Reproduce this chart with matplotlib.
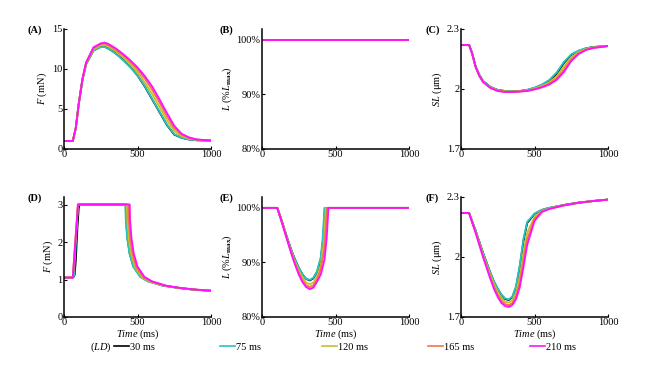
import matplotlib as mpl
import matplotlib.pyplot as plt
from matplotlib.lines import Line2D

mpl.rcParams['font.family'] = ['Liberation Serif', 'DejaVu Serif']
mpl.rcParams['mathtext.fontset'] = 'custom'
mpl.rcParams['mathtext.rm'] = 'Liberation Serif'
mpl.rcParams['mathtext.it'] = 'Liberation Serif:italic'
mpl.rcParams['mathtext.bf'] = 'Liberation Serif:bold'
mpl.rcParams['font.size'] = 7.5

# legend labels and colours
durations = ['30 ms', '75 ms', '120 ms', '165 ms', '210 ms']
colors = ['#000000', '#22c4c4', '#c8c024', '#ef7646', '#ff10ff']

# (A) isometric force
a_time = [0, 60, 80, 100, 125, 150, 200, 250, 275, 300, 350, 400, 450, 500, 550, 600, 650, 700, 750, 800, 850, 900, 1000]
a_30 = [1.0, 1.0, 2.6, 5.6, 8.6, 10.6, 12.3, 12.8, 12.8, 12.6, 12.0, 11.2, 10.3, 9.2, 7.8, 6.2, 4.6, 3.0, 1.8, 1.4, 1.2, 1.1, 1.05]
a_75 = [1.0, 1.0, 2.6, 5.6, 8.6, 10.6, 12.3, 12.75, 12.75, 12.55, 11.95, 11.15, 10.25, 9.2, 7.85, 6.25, 4.65, 3.05, 1.85, 1.4, 1.2, 1.1, 1.05]
a_120 = [1.0, 1.0, 2.6, 5.6, 8.65, 10.7, 12.45, 12.95, 13.0, 12.8, 12.25, 11.5, 10.6, 9.6, 8.3, 6.85, 5.25, 3.6, 2.25, 1.6, 1.3, 1.15, 1.05]
a_165 = [1.0, 1.0, 2.6, 5.6, 8.7, 10.75, 12.6, 13.1, 13.2, 13.0, 12.45, 11.75, 10.9, 9.95, 8.8, 7.4, 5.8, 4.1, 2.6, 1.8, 1.4, 1.18, 1.05]
a_210 = [1.0, 1.0, 2.6, 5.6, 8.7, 10.8, 12.7, 13.2, 13.3, 13.15, 12.6, 11.9, 11.1, 10.2, 9.1, 7.8, 6.2, 4.5, 2.9, 1.9, 1.45, 1.2, 1.05]

# (B) muscle length, constant
b_time = [0, 1000]
b_len = [100, 100]

# (C) sarcomere length, isometric
c_time = [0, 55, 75, 100, 125, 150, 200, 250, 300, 350, 400, 450, 500, 550, 600, 650, 700, 750, 800, 850, 900, 1000]
c_30 = [2.22, 2.22, 2.18, 2.11, 2.07, 2.04, 2.01, 1.995, 1.99, 1.988, 1.99, 1.995, 2.005, 2.02, 2.04, 2.075, 2.13, 2.17, 2.19, 2.203, 2.21, 2.215]
c_75 = [2.22, 2.22, 2.18, 2.11, 2.07, 2.04, 2.01, 1.995, 1.99, 1.988, 1.99, 1.996, 2.007, 2.022, 2.045, 2.082, 2.135, 2.173, 2.192, 2.204, 2.21, 2.215]
c_120 = [2.22, 2.22, 2.18, 2.11, 2.068, 2.038, 2.008, 1.993, 1.988, 1.987, 1.989, 1.993, 2.002, 2.015, 2.033, 2.063, 2.11, 2.158, 2.185, 2.2, 2.208, 2.215]
c_165 = [2.22, 2.22, 2.18, 2.11, 2.066, 2.036, 2.006, 1.991, 1.986, 1.986, 1.988, 1.991, 1.999, 2.011, 2.026, 2.052, 2.095, 2.147, 2.179, 2.197, 2.206, 2.215]
c_210 = [2.22, 2.22, 2.18, 2.11, 2.065, 2.035, 2.005, 1.99, 1.985, 1.985, 1.987, 1.99, 1.998, 2.008, 2.022, 2.045, 2.085, 2.14, 2.175, 2.195, 2.205, 2.215]

# (D) force with afterload
d_time_30 = [0, 60, 65, 72, 80, 90, 100, 105, 420, 422, 432, 447, 472, 520, 570, 670, 770, 880, 1000]
d_30 = [1.05, 1.05, 1.07, 1.12, 1.5, 2.3, 2.9, 3.0, 3.0, 2.6, 2.1, 1.7, 1.35, 1.08, 0.96, 0.84, 0.78, 0.73, 0.70]
d_time_75 = [0, 60, 68, 95, 418, 420, 430, 445, 470, 518, 570, 670, 770, 880, 1000]
d_75 = [1.05, 1.05, 1.1, 3.0, 3.0, 2.6, 2.1, 1.7, 1.35, 1.07, 0.95, 0.84, 0.78, 0.73, 0.70]
d_time_120 = [0, 60, 95, 428, 430, 440, 455, 480, 528, 580, 680, 780, 890, 1000]
d_120 = [1.05, 1.05, 3.0, 3.0, 2.6, 2.1, 1.7, 1.35, 1.07, 0.95, 0.835, 0.775, 0.73, 0.70]
d_time_165 = [0, 60, 95, 438, 440, 450, 465, 490, 538, 590, 690, 790, 895, 1000]
d_165 = [1.05, 1.05, 3.0, 3.0, 2.6, 2.1, 1.7, 1.35, 1.07, 0.95, 0.832, 0.772, 0.73, 0.70]
d_time_210 = [0, 60, 95, 447, 449, 459, 474, 499, 547, 600, 700, 800, 900, 1000]
d_210 = [1.05, 1.05, 3.0, 3.0, 2.6, 2.1, 1.7, 1.35, 1.07, 0.95, 0.83, 0.77, 0.73, 0.70]

# (E) muscle length with afterload
e_time_30 = [0, 104, 125, 150, 175, 200, 225, 250, 275, 300, 325, 350, 375, 400, 415, 428, 1000]
e_30 = [100, 100, 98.4, 96.3, 94.2, 92.2, 90.5, 89.0, 87.8, 87.0, 86.7, 87.1, 88.3, 90.6, 94.0, 100, 100]
e_time_75 = [0, 104, 125, 150, 175, 200, 225, 250, 275, 300, 325, 350, 375, 400, 413, 425, 1000]
e_75 = [100, 100, 98.4, 96.3, 94.2, 92.2, 90.5, 89.0, 87.8, 87.0, 86.8, 87.2, 88.4, 91.0, 94.5, 100, 100]
e_time_120 = [0, 104, 125, 150, 175, 200, 225, 250, 275, 300, 325, 350, 375, 400, 420, 435, 1000]
e_120 = [100, 100, 98.3, 96.2, 94.0, 91.9, 90.1, 88.5, 87.2, 86.3, 86.0, 86.3, 87.4, 89.5, 93.5, 100, 100]
e_time_165 = [0, 104, 125, 150, 175, 200, 225, 250, 275, 300, 325, 350, 375, 400, 425, 443, 1000]
e_165 = [100, 100, 98.25, 96.1, 93.9, 91.7, 89.8, 88.1, 86.7, 85.8, 85.5, 85.8, 86.9, 88.8, 92.5, 100, 100]
e_time_210 = [0, 104, 125, 150, 175, 200, 225, 250, 275, 300, 325, 350, 375, 400, 425, 440, 452, 1000]
e_210 = [100, 100, 98.2, 96.0, 93.8, 91.6, 89.6, 87.8, 86.4, 85.5, 85.1, 85.4, 86.5, 87.8, 90.5, 94.5, 100, 100]

# (F) sarcomere length with afterload
f_time = [0, 55, 75, 100, 125, 150, 175, 200, 225, 250, 275, 300, 325, 350, 375, 400, 425, 450, 500, 550, 600, 700, 800, 900, 1000]
f_30 = [2.22, 2.22, 2.18, 2.13, 2.075, 2.02, 1.97, 1.92, 1.875, 1.84, 1.81, 1.79, 1.785, 1.80, 1.85, 1.95, 2.08, 2.17, 2.215, 2.235, 2.245, 2.26, 2.272, 2.28, 2.287]
f_75 = [2.22, 2.22, 2.18, 2.13, 2.075, 2.02, 1.97, 1.92, 1.876, 1.841, 1.812, 1.793, 1.788, 1.803, 1.855, 1.96, 2.09, 2.175, 2.217, 2.236, 2.246, 2.26, 2.272, 2.28, 2.287]
f_120 = [2.22, 2.22, 2.178, 2.126, 2.068, 2.011, 1.96, 1.908, 1.862, 1.825, 1.794, 1.776, 1.772, 1.784, 1.823, 1.902, 2.02, 2.12, 2.2, 2.23, 2.243, 2.259, 2.271, 2.28, 2.287]
f_165 = [2.22, 2.22, 2.176, 2.122, 2.063, 2.005, 1.952, 1.898, 1.85, 1.811, 1.781, 1.764, 1.759, 1.77, 1.805, 1.873, 1.982, 2.088, 2.19, 2.228, 2.241, 2.258, 2.271, 2.28, 2.287]
f_210 = [2.22, 2.22, 2.175, 2.12, 2.06, 2.0, 1.945, 1.89, 1.84, 1.80, 1.77, 1.755, 1.75, 1.76, 1.79, 1.85, 1.95, 2.06, 2.18, 2.225, 2.24, 2.258, 2.271, 2.28, 2.287]

W, H = 671, 379
fig = plt.figure(figsize=(W / 100, H / 100), dpi=100)

lefts = [64, 262, 461]
tops = [29, 197]
aw, ah = 147, 120
axes = []
for r in range(2):
    for c in range(3):
        ax = fig.add_axes([lefts[c] / W, 1 - (tops[r] + ah) / H, aw / W, ah / H])
        axes.append(ax)

panels = [
    [(a_time, a_30), (a_time, a_75), (a_time, a_120), (a_time, a_165), (a_time, a_210)],
    [(b_time, b_len)] * 5,
    [(c_time, c_30), (c_time, c_75), (c_time, c_120), (c_time, c_165), (c_time, c_210)],
    [(d_time_30, d_30), (d_time_75, d_75), (d_time_120, d_120), (d_time_165, d_165), (d_time_210, d_210)],
    [(e_time_30, e_30), (e_time_75, e_75), (e_time_120, e_120), (e_time_165, e_165), (e_time_210, e_210)],
    [(f_time, f_30), (f_time, f_75), (f_time, f_120), (f_time, f_165), (f_time, f_210)],
]

ylims = [(0, 15), (80, 102), (1.7, 2.3), (0, 3.2), (80, 102), (1.7, 2.3)]
yticks = [[0, 5, 10, 15], [80, 90, 100], [1.7, 2.0, 2.3],
          [0, 1, 2, 3], [80, 90, 100], [1.7, 2.0, 2.3]]
yticklabels = [['0', '5', '10', '15'], ['80%', '90%', '100%'], ['1.7', '2', '2.3'],
               ['0', '1', '2', '3'], ['80%', '90%', '100%'], ['1.7', '2', '2.3']]
ylabels = [r'$F$ (mN)', r'$L$ (%$L_{\mathbf{max}}$)', r'$SL$ ($\mathrm{\mu}$m)',
           r'$F$ (mN)', r'$L$ (%$L_{\mathbf{max}}$)', r'$SL$ ($\mathrm{\mu}$m)']
letters = ['(A)', '(B)', '(C)', '(D)', '(E)', '(F)']

for i, ax in enumerate(axes):
    for (t, v), col in zip(panels[i], colors):
        ax.plot(t, v, color=col, lw=1.35, solid_joinstyle='round')
    ax.set_xlim(0, 1000)
    ax.set_ylim(*ylims[i])
    ax.set_xticks([0, 500, 1000])
    ax.set_yticks(yticks[i])
    ax.set_yticklabels(yticklabels[i])
    for s in ['top', 'right']:
        ax.spines[s].set_visible(False)
    for s in ['left', 'bottom']:
        ax.spines[s].set_linewidth(1.1)
    ax.tick_params(direction='in', length=2, width=0.8, pad=1, labelsize=7.5)
    ax.set_ylabel(ylabels[i], labelpad=2)
    if i >= 3:
        ax.set_xlabel(r'$Time$ (ms)', labelpad=0)
    r, c = divmod(i, 3)
    fig.text([27, 220, 425][c] / W, 1 - (tops[r] + 1) / H, letters[i],
             fontweight='bold', ha='left', va='center', fontsize=7.5)

# legend row
fig.text(90 / W, 1 - 347 / H, r'($LD$)', ha='left', va='center', fontsize=7.5)
for x0, lab, col in zip([114, 220, 322, 428, 530], durations, colors):
    h = Line2D([], [], color=col, lw=1.2)
    fig.legend([h], [lab], loc='center left', bbox_to_anchor=(x0 / W, 1 - 347 / H),
               frameon=False, borderpad=0, borderaxespad=0, handlelength=1.45,
               handletextpad=0.1, fontsize=7.5)

fig.savefig('out.png', dpi=100)
